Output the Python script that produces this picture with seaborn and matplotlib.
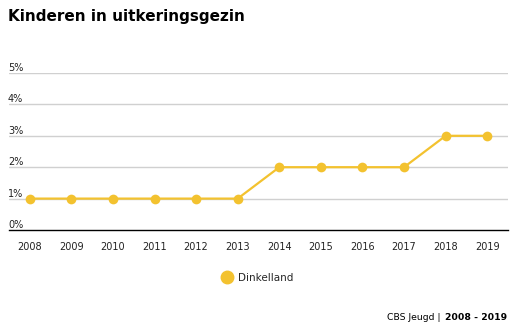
import matplotlib
matplotlib.use("Agg")
import matplotlib.pyplot as plt
import matplotlib.transforms as mtransforms
import seaborn as sns
import pandas as pd

years = ["2008", "2009", "2010", "2011", "2012", "2013",
         "2014", "2015", "2016", "2017", "2018", "2019"]
dinkelland = [1, 1, 1, 1, 1, 1, 2, 2, 2, 2, 3, 3]
y_ticks = [0, 1, 2, 3, 4, 5]
series_name = "Dinkelland"

sns.set_style("white")
plt.rcParams["font.family"] = ["DejaVu Sans"]

color = "#F3C22F"

df = pd.DataFrame({"jaar": list(range(len(years))), "waarde": dinkelland})

fig = plt.figure(figsize=(5.15, 3.31), dpi=100)
ax = fig.add_axes([9 / 515, 1 - 230 / 331, 499 / 515, (230 - 73) / 331])

sns.lineplot(data=df, x="jaar", y="waarde", ax=ax, color=color,
             linewidth=1.6, marker="o", markersize=7, markeredgewidth=0,
             zorder=3)

ax.set_xlim(-0.5, len(years) - 0.5)
ax.set_ylim(0, 5)
ax.set_xticks(range(len(years)))
ax.set_xticklabels(years, fontsize=7)
ax.tick_params(axis="x", length=0, pad=9, colors="#222222")
ax.set_yticks([])
ax.set_xlabel("")
ax.set_ylabel("")

for s in ["top", "right", "left"]:
    ax.spines[s].set_visible(False)
ax.spines["bottom"].set_color("#000000")
ax.spines["bottom"].set_linewidth(1.0)
ax.spines["bottom"].set_zorder(4)

# horizontal gridlines with their labels sitting just above them
trans = mtransforms.blended_transform_factory(fig.transFigure, ax.transData)
for t in y_ticks:
    if t > 0:
        ax.axhline(t, color="#d0d0d0", linewidth=1.0, zorder=1)
    fig.text(8 / 515, t, f"{t}%", transform=trans, fontsize=7,
             color="#222222", ha="left", va="bottom")

# title
fig.text(8 / 515, 1 - 17 / 331, "Kinderen in uitkeringsgezin",
         fontsize=11, fontweight="bold", ha="left", va="center",
         color="#000000")

# legend
fig.legend(handles=[plt.Line2D([], [], marker="o", linestyle="none",
                               color=color, markersize=9)],
           labels=[series_name], loc="center",
           bbox_to_anchor=(255 / 515, 1 - 278 / 331), frameon=False,
           fontsize=7.5, handletextpad=0.1, borderaxespad=0)

# source line
src_bold = fig.text(507 / 515, 1 - 318 / 331, "2008 - 2019", fontsize=6.7,
                    fontweight="bold", ha="right", va="center",
                    color="#000000")
fig.canvas.draw()
bb = src_bold.get_window_extent()
fig.text((bb.x0 - 1) / fig.bbox.width, 1 - 318 / 331, "CBS Jeugd | ",
         fontsize=6.7, ha="right", va="center", color="#000000")

fig.savefig("out.png", dpi=100)
